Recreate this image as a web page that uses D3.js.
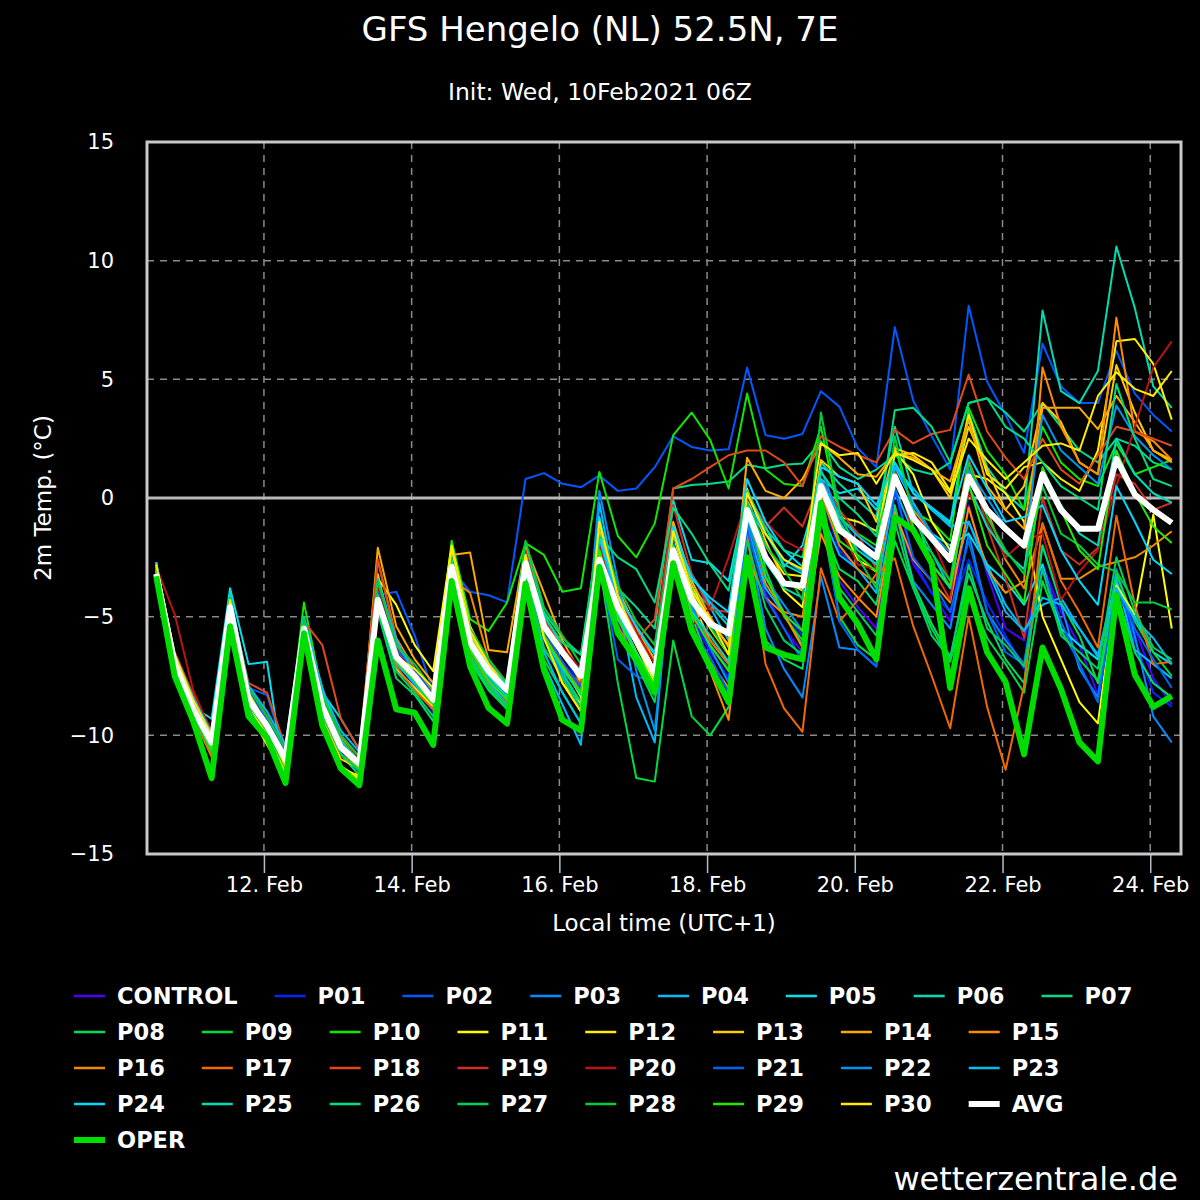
<!DOCTYPE html>
<html>
<head>
<meta charset="utf-8">
<script src="https://cdn.jsdelivr.net/npm/d3@7"></script>
<style>
  html, body { margin: 0; padding: 0; background: #000; }
  svg { display: block; font-family: "DejaVu Sans", sans-serif; }
</style>
</head>
<body>
<div id="chart"></div>
<script>
/* 2m temperature ensemble, values read per 6h step from 10 Feb 13:00 local */
var leadHours = d3.range(6, 337, 6);
var tickDates = ["2021-02-12", "2021-02-14", "2021-02-16", "2021-02-18", "2021-02-20", "2021-02-22", "2021-02-24"];
var yTicks = [15, 10, 5, 0, -5, -10, -15];
var yGrid = [10, 5, -5, -10];

var names = ["CONTROL","P01","P02","P03","P04","P05","P06","P07","P08","P09","P10",
  "P11","P12","P13","P14","P15","P16","P17","P18","P19","P20",
  "P21","P22","P23","P24","P25","P26","P27","P28","P29","P30","AVG","OPER"];
var colors = ["#4a00ff","#0026ff","#0058ff","#008cff","#00bcff","#00e0f0","#00dcb0","#00dc8c","#00dc64","#00dc40","#10e800",
  "#ffff00","#ffee00","#ffcc00","#ffaa00","#ff8c00","#ee8a00","#f06a00","#e04a18","#cc3020","#b81414",
  "#0064f0","#0094f0","#00bcf0","#00d8ff","#00dcb4","#00dc80","#00d060","#00cc3c","#28e800","#ffee00","#ffffff","#00dd00"];

var CONTROL = [-3.0,-7.2,-9.0,-10.8, -4.8,-8.8,-9.8,-11.3, -5.6,-9.0,-10.7,-11.6, -4.6,-7.2,-8.0,-9.0, -3.1,-6.6,-7.8,-8.6, -3.0,-6.0,-7.2,-8.3, -2.8,-5.2,-6.8,-8.0, -2.6,-5.0,-6.5,-7.6, -1.0,-4.0,-5.5,-6.5, -0.8,-3.5,-4.6,-5.5, -0.5,-2.8,-4.0,-5.2, -0.3,-3.2,-5.5,-6.0, -2.8,-4.8,-6.2,-8.3, -3.0,-5.5,-7.6,-8.7];
var P01 = [-3.1,-6.8,-8.7,-10.1, -4.4,-8.2,-9.4,-10.8, -5.3,-8.6,-10.2,-11.0, -4.0,-6.5,-7.6,-8.8, -2.6,-5.6,-6.9,-7.8, -2.3,-5.0,-6.6,-7.9, -2.4,-4.5,-5.6,-6.6, -2.5,-4.8,-6.4,-7.6, -0.8,-3.2,-4.8,-5.8, 0.2,-2.2,-3.0,-3.6, 0.3,-2.6,-4.0,-4.8, -2.6,-4.4,-5.8,-7.2, -2.8,-5.5,-7.0,-8.6, -3.5,-6.0,-8.2,-8.8];
var P02 = [-2.9,-6.7,-8.6,-10.0, -4.5,-8.0,-8.3,-10.8, -5.4,-8.5,-10.3,-11.0, -4.1,-3.95,-5.8,-8.2, -3.0,-3.95,-4.1,-4.4, 0.8,1.05,0.6,0.45, 0.95,0.3,0.4,1.3, 2.6,2.15,2.0,2.05, 5.5,2.65,2.5,2.7, 4.5,3.85,2.1,1.3, 7.2,4.1,2.6,1.2, 8.1,4.9,3.5,1.9, 6.5,4.7,4.0,4.0, 6.2,4.4,3.5,2.8];
var P03 = [-2.8,-6.6,-8.5,-10.0, -4.2,-8.1,-9.3,-10.7, -5.2,-8.4,-10.0,-10.9, -4.4,-6.9,-7.9,-8.9, -2.7,-6.4,-7.7,-8.6, -2.5,-5.8,-7.3,-8.8, -2.0,-4.0,-5.4,-7.0, -1.8,-4.5,-6.2,-7.2, -1.5,-5.5,-7.2,-8.4, -3.3,-6.3,-6.4,-7.1, -0.5,-3.5,-4.5,-5.5, -1.5,-4.8,-6.0,-7.0, -2.0,-4.5,-7.2,-8.4, -3.0,-5.8,-9.2,-10.3];
var P04 = [-2.7,-6.9,-8.8,-10.2, -4.3,-8.4,-9.5,-10.9, -5.4,-8.7,-10.4,-11.2, -4.5,-7.0,-7.8,-8.9, -3.2,-6.7,-7.9,-8.7, -3.3,-7.0,-8.7,-10.4, -0.2,-4.3,-8.4,-10.3, -1.6,-3.8,-4.6,-6.0, -1.2,-3.8,-4.9,-6.2, -0.6,-2.4,-3.0,-4.0, 0.4,-1.5,-2.3,-3.8, -1.0,-2.8,-4.5,-5.6, -4.5,-4.2,-5.5,-6.6, -3.4,-6.4,-7.0,-7.6];
var P05 = [-2.7,-7.3,-8.8,-9.3, -3.8,-7.0,-6.9,-12.1, -5.0,-8.2,-9.3,-10.6, -3.8,-6.2,-7.2,-8.4, -2.6,-6.0,-7.5,-8.3, -2.3,-5.2,-6.6,-7.4, -0.8,-4.3,-6.2,-7.6, -0.1,-2.6,-2.75,-3.5, 0.2,-1.2,-2.9,-2.0, 0.8,0.2,0.4,-0.5, 1.3,-0.2,-1.5,-2.0, -1.5,-2.8,-3.5,-4.5, -2.8,-5.5,-6.2,-6.8, -3.6,-5.0,-6.5,-7.0];
var P06 = [-3.0,-7.1,-8.9,-10.4, -4.0,-8.3,-9.5,-10.9, -5.2,-8.0,-10.3,-11.1, -3.9,-6.4,-7.4,-8.3, -2.4,-5.8,-7.0,-7.8, -2.0,-4.9,-6.3,-7.4, -1.5,-4.0,-5.6,-6.5, -1.9,-3.2,-4.5,-5.4, -0.5,-1.5,-2.8,-3.2, 1.5,0.6,-0.1,-0.8, 3.0,0.2,-0.5,-1.1, 3.6,1.3,0.2,-0.5, 7.9,4.5,4.0,5.35, 10.6,8.0,4.7,3.8];
var P07 = [-3.1,-7.0,-8.8,-10.2, -4.6,-8.6,-9.7,-11.1, -5.5,-8.8,-10.4,-11.0, -4.2,-6.6,-7.3,-8.2, -2.5,-5.9,-7.1,-7.9, -2.0,-4.8,-5.9,-6.6, -1.2,-3.8,-4.6,-5.5, 0.4,0.55,0.6,0.7, 1.4,1.25,1.4,1.45, 2.4,1.3,0.8,1.2, 1.8,1.2,1.0,1.5, 4.0,4.2,3.6,2.8, 4.0,3.0,2.0,1.5, 2.5,2.2,1.5,1.2];
var P08 = [-3.3,-7.4,-9.2,-10.9, -4.9,-8.9,-10.0,-11.5, -5.8,-9.2,-10.8,-11.7, -4.8,-7.6,-8.3,-9.4, -3.3,-6.9,-8.1,-8.9, -3.2,-6.4,-7.4,-8.6, -2.4,-5.0,-6.5,-7.8, -2.8,-5.0,-7.0,-8.4, -2.9,-6.0,-6.8,-7.2, -1.0,-3.0,-3.5,-4.5, -0.3,-3.6,-5.3,-6.7, -3.2,-5.2,-6.8,-7.8, -2.0,-4.4,-5.8,-7.8, -4.0,-6.5,-7.8,-8.4];
var P09 = [-3.2,-7.3,-9.1,-10.7, -4.9,-8.7,-9.9,-11.4, -5.7,-9.0,-10.6,-11.4, -4.4,-6.8,-7.7,-8.9, -3.3,-6.8,-8.0,-8.9, -3.5,-6.8,-8.2,-9.5, -2.8,-7.8,-11.8,-11.95, -6.0,-9.2,-10.0,-8.8, 0.3,-3.0,-5.0,-6.0, -0.7,-5.0,-6.2,-6.8, -1.8,-3.8,-5.5,-6.9, -4.0,-5.9,-7.0,-8.2, -3.5,-5.6,-6.8,-7.7, -3.2,-5.2,-6.5,-7.5];
var P10 = [-3.0,-7.0,-8.9,-10.6, -4.5,-8.5,-9.6,-11.0, -4.4,-8.3,-10.0,-11.0, -3.6,-6.4,-7.3,-8.4, -1.8,-5.1,-5.6,-4.4, -1.9,-2.4,-3.95,-3.8, 1.1,-1.6,-2.5,-1.07, 2.65,3.6,2.45,0.4, 4.4,1.2,0.6,0.5, 3.0,-0.8,-1.5,-2.0, 2.2,-0.6,-1.0,-1.8, 3.8,2.0,1.0,-0.5, 3.0,1.5,0.8,0.5, 2.3,1.0,1.3,1.6];
var P11 = [-2.9,-6.9,-9.0,-10.6, -4.6,-8.7,-10.0,-11.6, -5.8,-9.5,-11.3,-11.8, -3.4,-4.5,-6.2,-7.3, -2.0,-5.4,-7.0,-8.2, -2.9,-5.6,-7.8,-8.7, -1.5,-4.6,-6.2,-7.8, -1.5,-3.7,-5.2,-6.2, 0.0,-2.4,-3.9,-4.6, 0.8,-1.0,-2.6,-3.1, 2.0,1.0,-1.0,-2.2, 1.0,0.8,0.2,-1.0, -5.0,-6.8,-8.6,-9.5, -3.7,-4.9,-0.7,-5.5];
var P12 = [-3.0,-7.1,-9.1,-10.8, -4.9,-9.0,-10.4,-11.7, -5.9,-9.7,-11.4,-11.9, -4.4,-7.2,-8.0,-8.8, -2.3,-6.0,-7.4,-8.3, -2.6,-5.5,-7.0,-8.4, -1.8,-4.8,-6.5,-8.0, -1.6,-4.0,-5.5,-6.6, -0.5,-2.0,-3.2,-3.3, 0.3,-0.8,-1.0,-1.4, 1.8,1.9,1.5,0.3, 3.5,1.0,0.4,1.3, 1.5,0.8,0.3,2.0, 6.6,6.7,5.65,3.3];
var P13 = [-2.8,-6.8,-8.6,-10.2, -4.7,-8.6,-9.7,-11.2, -5.6,-9.2,-11.0,-11.4, -3.2,-6.5,-7.4,-8.6, -2.2,-5.8,-7.0,-7.9, -2.2,-5.2,-6.3,-7.8, -1.3,-3.9,-5.5,-7.3, -1.2,-4.3,-6.0,-7.0, 0.4,-1.8,-3.5,-3.9, 1.6,0.9,0.6,-1.0, 2.1,1.8,1.2,0.0, 3.0,1.2,-0.5,0.5, 4.0,3.2,1.5,1.0, 5.6,3.6,2.0,1.6];
var P14 = [-2.9,-6.9,-8.8,-10.4, -4.6,-8.4,-9.5,-10.9, -5.4,-8.7,-10.4,-11.1, -2.1,-5.4,-6.8,-7.8, -2.4,-2.3,-6.4,-6.5, -2.0,-4.0,-6.0,-7.4, -1.5,-3.8,-5.6,-6.8, -1.0,-3.5,-5.0,-6.3, 1.7,0.3,0.0,0.8, 2.3,1.7,1.0,0.9, 1.9,1.7,1.2,0.7, 3.3,0.5,-0.5,-1.3, 3.8,3.8,3.8,2.9, 4.3,3.2,2.0,1.5];
var P15 = [-3.1,-7.2,-9.1,-10.7, -4.3,-8.0,-9.2,-10.6, -5.6,-8.9,-10.6,-11.3, -4.0,-6.6,-7.2,-8.2, -3.0,-6.2,-7.2,-8.0, -2.7,-5.5,-6.6,-7.6, -2.2,-4.2,-5.7,-7.3, -2.0,-5.3,-7.3,-9.35, -2.5,-4.2,-4.9,-6.3, -1.5,-3.3,-4.2,-5.0, -0.6,-2.6,-3.5,-4.4, -0.4,-3.0,-4.0,-3.5, 5.5,3.0,1.5,1.0, 7.6,2.8,2.4,1.6];
var P16 = [-3.0,-6.7,-8.5,-10.0, -4.4,-8.2,-9.3,-10.6, -5.2,-8.5,-10.1,-10.9, -2.6,-5.9,-7.2,-8.3, -3.4,-4.0,-6.8,-7.8, -3.0,-5.8,-7.0,-8.0, -2.5,-4.6,-6.0,-6.5, -2.4,-5.4,-6.9,-8.0, -0.6,-3.6,-4.8,-5.0, 0.2,-2.0,-3.0,-3.6, 1.0,-0.5,-1.5,-2.5, 1.6,-0.5,-2.6,-3.8, -1.1,-3.4,-3.4,-2.9, -2.7,-2.5,-2.0,-1.4];
var P17 = [-3.2,-7.3,-9.2,-10.9, -4.7,-8.7,-9.8,-11.3, -5.7,-9.1,-10.8,-11.4, -4.5,-7.1,-8.1,-8.9, -3.2,-6.5,-7.8,-8.7, -2.8,-5.7,-6.9,-8.2, -2.6,-5.4,-6.8,-7.9, -2.0,-4.8,-6.0,-7.0, -1.5,-7.0,-8.86,-9.85, -2.96,-5.2,-4.3,-3.2, -2.54,-5.4,-7.5,-9.7, -5.0,-8.8,-11.45,-7.9, -1.05,-3.5,-4.8,-6.3, -0.75,-4.5,-7.0,-6.9];
var P18 = [-2.9,-6.5,-8.3,-9.8, -4.3,-7.8,-8.2,-10.5, -5.2,-6.2,-9.3,-10.6, -2.6,-6.0,-7.3,-8.6, -3.3,-6.6,-7.5,-8.3, -3.0,-5.6,-7.2,-7.8, -2.0,-4.5,-6.0,-5.1, 0.4,0.8,1.3,1.8, 2.0,2.0,1.5,0.5, 2.6,2.16,1.8,1.5, 2.87,2.3,2.7,2.87, 5.2,2.8,1.7,0.8, 2.5,1.2,0.6,1.8, 3.0,2.8,2.5,2.2];
var P19 = [-3.1,-6.9,-8.7,-10.0, -4.5,-8.3,-9.4,-10.9, -5.5,-8.9,-10.5,-11.2, -3.5,-6.3,-7.4,-8.6, -2.5,-6.0,-7.5,-8.3, -2.2,-5.1,-6.4,-7.4, -2.0,-4.4,-5.2,-6.2, -0.3,-3.2,-4.7,-4.8, 0.0,-1.2,-0.4,-1.2, 0.8,-0.5,-1.5,-3.0, 1.2,-1.5,-2.9,-4.3, 1.6,-1.2,-3.4,-5.9, 0.0,-2.2,-2.8,-2.1, 1.0,0.6,-0.5,-0.2];
var P20 = [-2.9,-4.9,-8.1,-9.9, -4.3,-8.0,-9.2,-10.6, -5.3,-8.6,-10.2,-11.0, -3.7,-6.5,-7.3,-8.3, -2.8,-6.1,-7.2,-8.0, -2.6,-5.3,-6.3,-7.2, -1.9,-4.0,-5.6,-7.0, -1.8,-5.4,-4.6,-2.5, 0.0,-1.0,-1.8,-2.2, 0.3,-1.2,-2.8,-3.0, 0.6,-0.6,-1.7,-3.5, 0.2,-1.0,-2.5,-1.8, -1.5,-4.3,-3.1,-2.2, 0.5,3.0,5.5,6.6];
var P21 = [-3.0,-6.8,-8.7,-10.1, -4.6,-8.1,-9.4,-10.6, -5.4,-8.7,-10.3,-11.1, -4.0,-6.4,-7.2,-8.3, -2.8,-6.1,-7.4,-8.3, -2.5,-5.6,-6.9,-8.0, -2.8,-6.8,-7.5,-7.8, -1.8,-5.5,-6.7,-8.2, -1.3,-4.2,-5.5,-6.9, -0.2,-5.2,-6.4,-7.1, 0.4,-2.5,-3.5,-4.8, -1.8,-4.8,-6.5,-7.0, -3.0,-5.2,-7.0,-8.6, -3.8,-5.5,-6.8,-8.0];
var P22 = [-3.1,-7.0,-8.8,-10.3, -4.7,-8.5,-9.7,-11.0, -5.6,-8.9,-10.5,-11.3, -4.3,-6.9,-7.6,-8.6, -2.9,-6.3,-7.6,-8.5, -2.8,-5.8,-7.5,-9.0, 0.3,-3.5,-7.3,-9.8, -2.2,-4.6,-6.3,-7.8, -0.9,-3.4,-4.5,-5.6, 1.2,-0.8,-2.0,-2.8, 1.5,-0.3,-1.5,-2.3, 1.2,0.0,-1.2,-2.0, 3.5,2.0,1.3,0.6, 3.9,2.6,1.8,1.2];
var P23 = [-2.8,-6.6,-8.4,-9.9, -4.2,-7.9,-9.0,-10.4, -5.0,-8.1,-9.8,-10.7, -3.4,-6.0,-7.4,-8.5, -2.6,-6.2,-7.7,-8.8, -3.1,-6.5,-8.2,-9.5, -1.7,-4.5,-6.6,-8.2, -1.4,-3.3,-4.4,-5.2, -0.2,-1.5,-2.6,-3.1, 0.8,-0.8,-1.6,-2.2, 1.3,0.4,-0.5,-1.2, -1.0,-3.0,-4.8,-5.6, -4.2,-4.5,-5.5,-6.7, -3.8,-5.1,-5.9,-7.0];
var P24 = [-3.0,-7.1,-9.0,-10.5, -4.4,-8.4,-9.6,-11.0, -5.5,-8.8,-10.4,-11.2, -4.2,-6.7,-7.4,-8.4, -2.7,-6.0,-7.1,-7.9, -2.4,-5.3,-6.5,-7.3, -1.6,-4.1,-5.4,-6.6, -1.2,-3.4,-4.2,-4.8, 0.8,-1.0,-2.2,-2.9, 1.3,0.9,0.6,-0.3, 1.5,0.2,-0.4,-1.0, 1.8,0.4,-1.0,-0.8, -0.3,-2.2,-3.5,-4.5, 0.5,-1.0,-2.6,-3.2];
var P25 = [-3.1,-7.2,-9.0,-10.6, -4.5,-8.6,-9.8,-11.2, -5.6,-9.0,-10.6,-11.3, -4.4,-6.9,-7.5,-8.5, -3.0,-6.2,-7.5,-8.4, -2.7,-5.9,-7.2,-8.3, -2.3,-4.9,-6.5,-7.9, -2.3,-4.8,-5.8,-6.9, -0.8,-2.7,-3.8,-4.2, 0.3,-1.0,-2.2,-2.8, 0.8,-0.5,-2.8,-3.8, 0.5,-1.2,-2.3,-3.0, 1.2,-0.3,-1.5,-2.0, 2.5,1.0,0.2,-0.2];
var P26 = [-3.0,-6.9,-8.7,-10.2, -4.5,-8.4,-9.5,-11.0, -5.4,-8.6,-10.2,-11.1, -4.1,-6.7,-7.6,-8.7, -2.6,-5.9,-7.2,-8.1, -2.4,-5.0,-6.1,-6.6, -1.6,-2.5,-3.0,-4.4, -0.4,-1.5,-2.8,-3.9, 0.3,-1.3,-2.2,-2.5, 1.1,0.0,-0.7,-1.6, 3.7,3.8,3.0,1.5, 4.0,4.2,3.0,2.5, 1.5,0.5,0.0,-0.5, 4.8,2.5,0.8,0.5];
var P27 = [-3.2,-7.3,-9.1,-10.7, -4.8,-8.7,-9.8,-11.3, -5.7,-9.1,-10.8,-11.5, -4.6,-7.3,-8.2,-9.2, -3.2,-6.6,-7.9,-8.8, -3.1,-6.3,-7.6,-8.8, -2.8,-5.8,-7.0,-8.6, -2.6,-5.7,-7.3,-8.5, -1.8,-4.6,-6.0,-6.6, -0.6,-3.8,-4.8,-5.8, -1.0,-3.8,-5.8,-6.8, -2.8,-5.5,-6.2,-7.1, -3.0,-5.8,-6.5,-7.2, -2.5,-4.8,-6.3,-6.8];
var P28 = [-2.9,-6.8,-8.7,-10.3, -4.2,-8.0,-9.2,-10.6, -5.1,-8.4,-10.0,-10.9, -3.5,-6.2,-7.0,-8.1, -2.2,-5.5,-6.8,-7.8, -1.8,-4.6,-5.8,-7.0, -1.1,-3.7,-5.2,-6.2, -1.5,-3.8,-5.4,-6.6, -0.2,-2.0,-3.0,-4.3, 3.6,-0.5,-2.5,-3.8, 2.6,-0.8,-2.3,-3.5, 1.5,-0.8,-2.2,-3.2, 0.5,-1.5,-2.0,-2.8, -3.1,-4.4,-4.4,-4.7];
var P29 = [-3.1,-7.1,-9.0,-10.6, -4.6,-8.6,-9.7,-11.1, -5.5,-8.9,-10.6,-11.4, -4.3,-6.9,-7.7,-8.7, -3.0,-6.4,-7.7,-8.5, -2.6,-5.8,-7.1,-8.2, -2.2,-5.1,-6.6,-7.9, -2.0,-4.9,-6.2,-7.3, -0.4,-3.3,-4.9,-5.6, 0.5,-1.8,-2.4,-3.1, 1.0,-1.2,-2.8,-3.7, 0.6,-2.0,-3.2,-4.4, 1.3,-0.5,-2.2,-3.0, 2.0,0.2,-1.2,-1.9];
var P30 = [-2.8,-6.6,-8.5,-10.0, -4.3,-8.2,-9.6,-11.3, -5.6,-9.6,-11.4,-11.7, -4.5,-6.7,-7.2,-8.0, -2.1,-5.6,-7.0,-8.1, -2.4,-5.9,-7.8,-9.0, -1.0,-4.1,-6.0,-7.6, -1.4,-3.9,-5.1,-6.6, 0.2,-1.5,-2.6,-3.0, 2.3,1.8,1.9,0.6, 1.9,1.6,1.2,0.2, 2.5,1.6,0.8,1.5, 2.2,2.3,2.0,4.3, 5.3,4.6,4.3,5.35];
var AVG = [-3.2,-7.0,-8.9,-10.3, -4.6,-8.5,-9.6,-11.0, -5.5,-8.8,-10.5,-11.2, -4.3,-6.7,-7.5,-8.5, -2.9,-6.1,-7.3,-8.1, -2.75,-5.4,-6.5,-7.5, -2.6,-4.6,-6.0,-7.4, -2.2,-4.3,-5.3,-5.7, -0.5,-2.5,-3.6,-3.7, 0.5,-1.35,-1.9,-2.5, 0.9,-0.85,-1.7,-2.6, 0.9,-0.5,-1.3,-2.0, 1.0,-0.5,-1.3,-1.3, 1.65,0.15,-0.5,-1.05];
var OPER = [-3.3,-7.5,-9.4,-11.8, -5.4,-9.2,-10.1,-12.0, -5.7,-9.6,-11.4,-12.1, -6.0,-8.9,-9.05,-10.4, -3.5,-7.1,-8.85,-9.5, -3.6,-7.25,-9.35,-9.8, -2.9,-5.7,-6.8,-8.2, -2.75,-5.6,-7.1,-8.6, -2.5,-6.3,-6.6,-6.8, -0.2,-4.2,-5.3,-6.8, -0.8,-1.35,-2.75,-8.0, -3.8,-6.5,-7.75,-10.8, -6.3,-8.05,-10.3,-11.1, -4.1,-7.45,-8.8,-8.35];

var seriesValues = [CONTROL,P01,P02,P03,P04,P05,P06,P07,P08,P09,P10,P11,P12,P13,P14,P15,P16,P17,P18,P19,P20,
  P21,P22,P23,P24,P25,P26,P27,P28,P29,P30,AVG,OPER];

var W = 1200, H = 1200;
var margin = {left: 147, top: 142, right: 19, bottom: 346};
var width = W - margin.left - margin.right;
var height = H - margin.top - margin.bottom;

var init = Date.UTC(2021, 1, 10, 7); // 06Z shown in local time (UTC+1)
var times = leadHours.map(function(h) { return new Date(init + h * 3600e3); });

var x = d3.scaleUtc()
  .domain([new Date(Date.UTC(2021, 1, 10, 10)), new Date(Date.UTC(2021, 1, 24, 10))])
  .range([0, width]);
var y = d3.scaleLinear().domain([-15, 15]).range([height, 0]);

var svg = d3.select("#chart").append("svg")
  .attr("width", W)
  .attr("height", H)
  .style("background", "#000");

svg.append("text")
  .attr("x", 600).attr("y", 41)
  .attr("text-anchor", "middle")
  .attr("fill", "#fff")
  .style("font-size", "34px")
  .text("GFS Hengelo (NL) 52.5N, 7E");

svg.append("text")
  .attr("x", 600).attr("y", 100)
  .attr("text-anchor", "middle")
  .attr("fill", "#fff")
  .style("font-size", "23.5px")
  .text("Init: Wed, 10Feb2021 06Z");

var g = svg.append("g")
  .attr("transform", "translate(" + margin.left + "," + margin.top + ")");

// grid
g.selectAll(".ygrid").data(yGrid).enter().append("line")
  .attr("x1", 0).attr("x2", width)
  .attr("y1", function(d) { return y(d); })
  .attr("y2", function(d) { return y(d); })
  .attr("stroke", "#8a8a8a").attr("stroke-width", 1.5)
  .attr("stroke-dasharray", "7,6");

var tickTimes = tickDates.map(function(s) { return new Date(s + "T00:00:00Z"); });
g.selectAll(".xgrid").data(tickTimes).enter().append("line")
  .attr("x1", function(d) { return x(d); })
  .attr("x2", function(d) { return x(d); })
  .attr("y1", 0).attr("y2", height)
  .attr("stroke", "#8a8a8a").attr("stroke-width", 1.5)
  .attr("stroke-dasharray", "7,6");

g.append("line")
  .attr("x1", 0).attr("x2", width)
  .attr("y1", y(0)).attr("y2", y(0))
  .attr("stroke", "#b8b8b8").attr("stroke-width", 3);

// axes
var xAxis = d3.axisBottom(x).tickValues(tickTimes)
  .tickFormat(d3.utcFormat("%d. %b")).tickSizeInner(19).tickSizeOuter(0).tickPadding(4);
var yAxis = d3.axisLeft(y).tickValues(yTicks)
  .tickFormat(function(d) { return d < 0 ? "\u2212" + Math.abs(d) : d; })
  .tickSize(0).tickPadding(33);

g.append("g").attr("class", "x axis")
  .attr("transform", "translate(0," + height + ")")
  .call(xAxis);
g.append("g").attr("class", "y axis").call(yAxis);
g.selectAll(".axis path").remove();
g.selectAll(".x.axis line").attr("stroke", "#b4bccc").attr("stroke-width", 1.5);
g.selectAll(".axis text").attr("fill", "#fff")
  .style("font-size", "21px").style("font-family", "DejaVu Sans, sans-serif");

svg.append("text")
  .attr("transform", "translate(51," + (margin.top + y(0)) + ") rotate(-90)")
  .attr("text-anchor", "middle")
  .attr("fill", "#fff")
  .style("font-size", "23px")
  .text("2m Temp. (\u00b0C)");

svg.append("text")
  .attr("x", margin.left + width / 2).attr("y", 931)
  .attr("text-anchor", "middle")
  .attr("fill", "#fff")
  .style("font-size", "23px")
  .text("Local time (UTC+1)");

// lines
var line = d3.line()
  .x(function(d, i) { return x(times[i]); })
  .y(function(d) { return y(d); });

g.append("defs").append("clipPath").attr("id", "clip")
  .append("rect").attr("width", width).attr("height", height);

var plot = g.append("g").attr("clip-path", "url(#clip)");
plot.selectAll(".series")
  .data(seriesValues)
  .enter()
  .append("path")
  .attr("class", "series")
  .attr("d", line)
  .attr("fill", "none")
  .attr("stroke", function(d, i) { return colors[i]; })
  .attr("stroke-width", function(d, i) { return i >= 31 ? 6 : 2; })
  .attr("stroke-linejoin", "round");

// frame
g.append("rect")
  .attr("x", 0).attr("y", 0)
  .attr("width", width).attr("height", height)
  .attr("fill", "none")
  .attr("stroke", "#c8c8c8").attr("stroke-width", 3);

// legend (flows left to right, wraps)
var legend = svg.append("g");
var lx = 74, ly = 996, maxX = 1140;
names.forEach(function(name, i) {
  var item = legend.append("g");
  item.append("line")
    .attr("x1", 0).attr("x2", 31).attr("y1", 0).attr("y2", 0)
    .attr("stroke", colors[i])
    .attr("stroke-width", i >= 31 ? 6 : 2.5);
  var t = item.append("text")
    .attr("x", 43).attr("y", 0).attr("dy", "0.36em")
    .attr("fill", "#fff")
    .style("font-size", "22.5px").style("font-weight", "bold")
    .text(name);
  var w = 43 + t.node().getComputedTextLength();
  if (lx + w > maxX) { lx = 74; ly += 36; }
  item.attr("transform", "translate(" + lx + "," + ly + ")");
  lx += w + 37;
});

svg.append("text")
  .attr("x", 1178).attr("y", 1190)
  .attr("text-anchor", "end")
  .attr("fill", "#fff")
  .style("font-size", "32px")
  .text("wetterzentrale.de");
</script>
</body>
</html>
